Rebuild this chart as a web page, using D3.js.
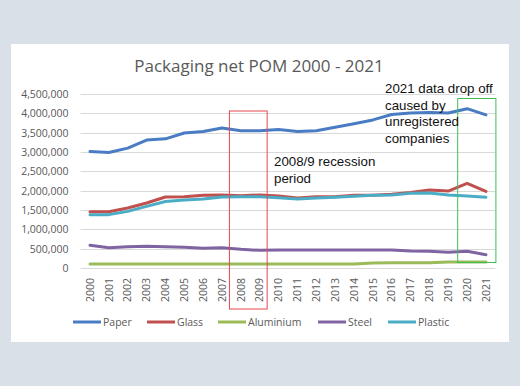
<!DOCTYPE html>
<html>
<head>
<meta charset="utf-8">
<script src="https://cdn.jsdelivr.net/npm/d3@7"></script>
<style>
  body { margin: 0; background: #d9e0e7; }
  svg { display: block; }
</style>
</head>
<body>
<script>
var years = d3.range(2000, 2022).map(String);
var seriesNames = ["Paper", "Glass", "Aluminium", "Steel", "Plastic"];
var seriesColors = ["#4a7cc4", "#c0504d", "#9bbb59", "#8064a2", "#4bacc6"];

var paper = [3010000, 2985000, 3100000, 3310000, 3340000, 3490000, 3530000, 3620000, 3550000, 3550000, 3580000,
  3530000, 3550000, 3640000, 3730000, 3830000, 3970000, 4010000, 4020000, 4010000, 4120000, 3960000];
var glass = [1457000, 1457000, 1550000, 1680000, 1836000, 1840000, 1880000, 1890000, 1870000, 1890000, 1860000,
  1810000, 1840000, 1845000, 1880000, 1880000, 1905000, 1950000, 2020000, 1990000, 2190000, 1980000];
var aluminium = [103000, 103000, 103000, 103000, 103000, 103000, 103000, 103000, 103000, 103000, 103000,
  103000, 103000, 103000, 103000, 129000, 138000, 138000, 138000, 155000, 155000, 155000];
var steel = [586000, 526000, 552000, 560000, 552000, 534000, 509000, 526000, 483000, 457000, 466000,
  466000, 466000, 466000, 466000, 466000, 466000, 440000, 431000, 405000, 431000, 345000];
var plastic = [1380000, 1380000, 1465000, 1595000, 1720000, 1760000, 1785000, 1835000, 1840000, 1845000, 1820000,
  1785000, 1810000, 1830000, 1855000, 1880000, 1890000, 1930000, 1940000, 1890000, 1860000, 1830000];
var yTicks = [0, 500000, 1000000, 1500000, 2000000, 2500000, 3000000, 3500000, 4000000, 4500000];

var allSeries = [paper, glass, aluminium, steel, plastic];

var width = 520, height = 386;
var margin = {top: 94, right: 24.6, bottom: 118, left: 80.6};

var svg = d3.select("body").append("svg")
  .attr("width", width)
  .attr("height", height);

// white chart panel
svg.append("rect")
  .attr("x", 11).attr("y", 44)
  .attr("width", 498).attr("height", 298)
  .attr("fill", "#ffffff");

var x = d3.scaleBand()
  .domain(years)
  .range([margin.left, width - margin.right]);

var y = d3.scaleLinear()
  .domain([0, 4500000])
  .range([height - margin.bottom, margin.top]);

// gridlines
svg.append("g")
  .selectAll("line")
  .data(yTicks)
  .join("line")
  .attr("x1", margin.left).attr("x2", width - margin.right)
  .attr("y1", d => Math.round(y(d)) + 0.5).attr("y2", d => Math.round(y(d)) + 0.5)
  .attr("stroke", "#d9d9d9");

// y axis labels
var yAxis = svg.append("g")
  .attr("transform", "translate(" + margin.left + ",0)")
  .call(d3.axisLeft(y).tickValues(yTicks).tickSize(0).tickPadding(12).tickFormat(d3.format(",")));
yAxis.select(".domain").remove();
yAxis.selectAll("text")
  .attr("fill", "#595959")
  .style("font-family", "'Open Sans', sans-serif")
  .style("font-size", "10.5px");

// x axis labels
var xAxis = svg.append("g")
  .attr("transform", "translate(0," + (height - margin.bottom) + ")")
  .call(d3.axisBottom(x).tickSize(0).tickPadding(0));
xAxis.select(".domain").remove();
xAxis.selectAll("text")
  .attr("fill", "#595959")
  .attr("transform", "rotate(-90)")
  .attr("text-anchor", "end")
  .attr("x", -10)
  .attr("y", 0)
  .attr("dy", "0.35em")
  .style("font-family", "'Open Sans', sans-serif")
  .style("font-size", "10.5px");

// lines
var line = d3.line()
  .x((d, i) => x(years[i]) + x.bandwidth() / 2)
  .y(d => y(d));

svg.append("g")
  .selectAll("path")
  .data(allSeries)
  .join("path")
  .attr("d", line)
  .attr("fill", "none")
  .attr("stroke", (d, i) => seriesColors[i])
  .attr("stroke-width", 3)
  .attr("stroke-linejoin", "round")
  .attr("stroke-linecap", "round");

// title
svg.append("text")
  .attr("x", 259).attr("y", 72)
  .attr("text-anchor", "middle")
  .attr("fill", "#595959")
  .style("font-family", "'Open Sans', sans-serif")
  .style("font-size", "17px")
  .text("Packaging net POM 2000 - 2021");

// recession box (2008-2009)
svg.append("rect")
  .attr("x", x("2008") - 2).attr("y", 111)
  .attr("width", x("2009") + x.bandwidth() - x("2008")).attr("height", 198)
  .attr("fill", "none")
  .attr("stroke", "#e8474f")
  .attr("stroke-width", 1);

// 2021 box (2020-2021)
svg.append("rect")
  .attr("x", x("2020")).attr("y", 98.5)
  .attr("width", width - margin.right - x("2020") + 0.5).attr("height", 164)
  .attr("fill", "none")
  .attr("stroke", "#3fbf5a")
  .attr("stroke-width", 1);

var annoFont = "'Liberation Sans', Arial, sans-serif";
var recession = ["2008/9 recession", "period"];
svg.append("g").selectAll("text")
  .data(recession)
  .join("text")
  .attr("x", 274)
  .attr("y", (d, i) => 166 + i * 16.7)
  .attr("fill", "#111111")
  .style("font-family", annoFont)
  .style("font-size", "13.3px")
  .text(d => d);

var dropOff = ["2021 data drop off", "caused by", "unregistered", "companies"];
svg.append("g").selectAll("text")
  .data(dropOff)
  .join("text")
  .attr("x", 385)
  .attr("y", (d, i) => 93 + i * 16.7)
  .attr("fill", "#111111")
  .style("font-family", annoFont)
  .style("font-size", "13.3px")
  .text(d => d);

// legend
var legendX = [73, 147, 218, 318, 388];
var legend = svg.append("g").selectAll("g")
  .data(seriesNames)
  .join("g")
  .attr("transform", (d, i) => "translate(" + legendX[i] + ",322)");
legend.append("line")
  .attr("x1", 0).attr("x2", 28)
  .attr("stroke", (d, i) => seriesColors[i])
  .attr("stroke-width", 3);
legend.append("text")
  .attr("x", 30).attr("dy", "0.35em")
  .attr("fill", "#595959")
  .style("font-family", "'Open Sans', sans-serif")
  .style("font-size", "10.5px")
  .text(d => d);
</script>
</body>
</html>
